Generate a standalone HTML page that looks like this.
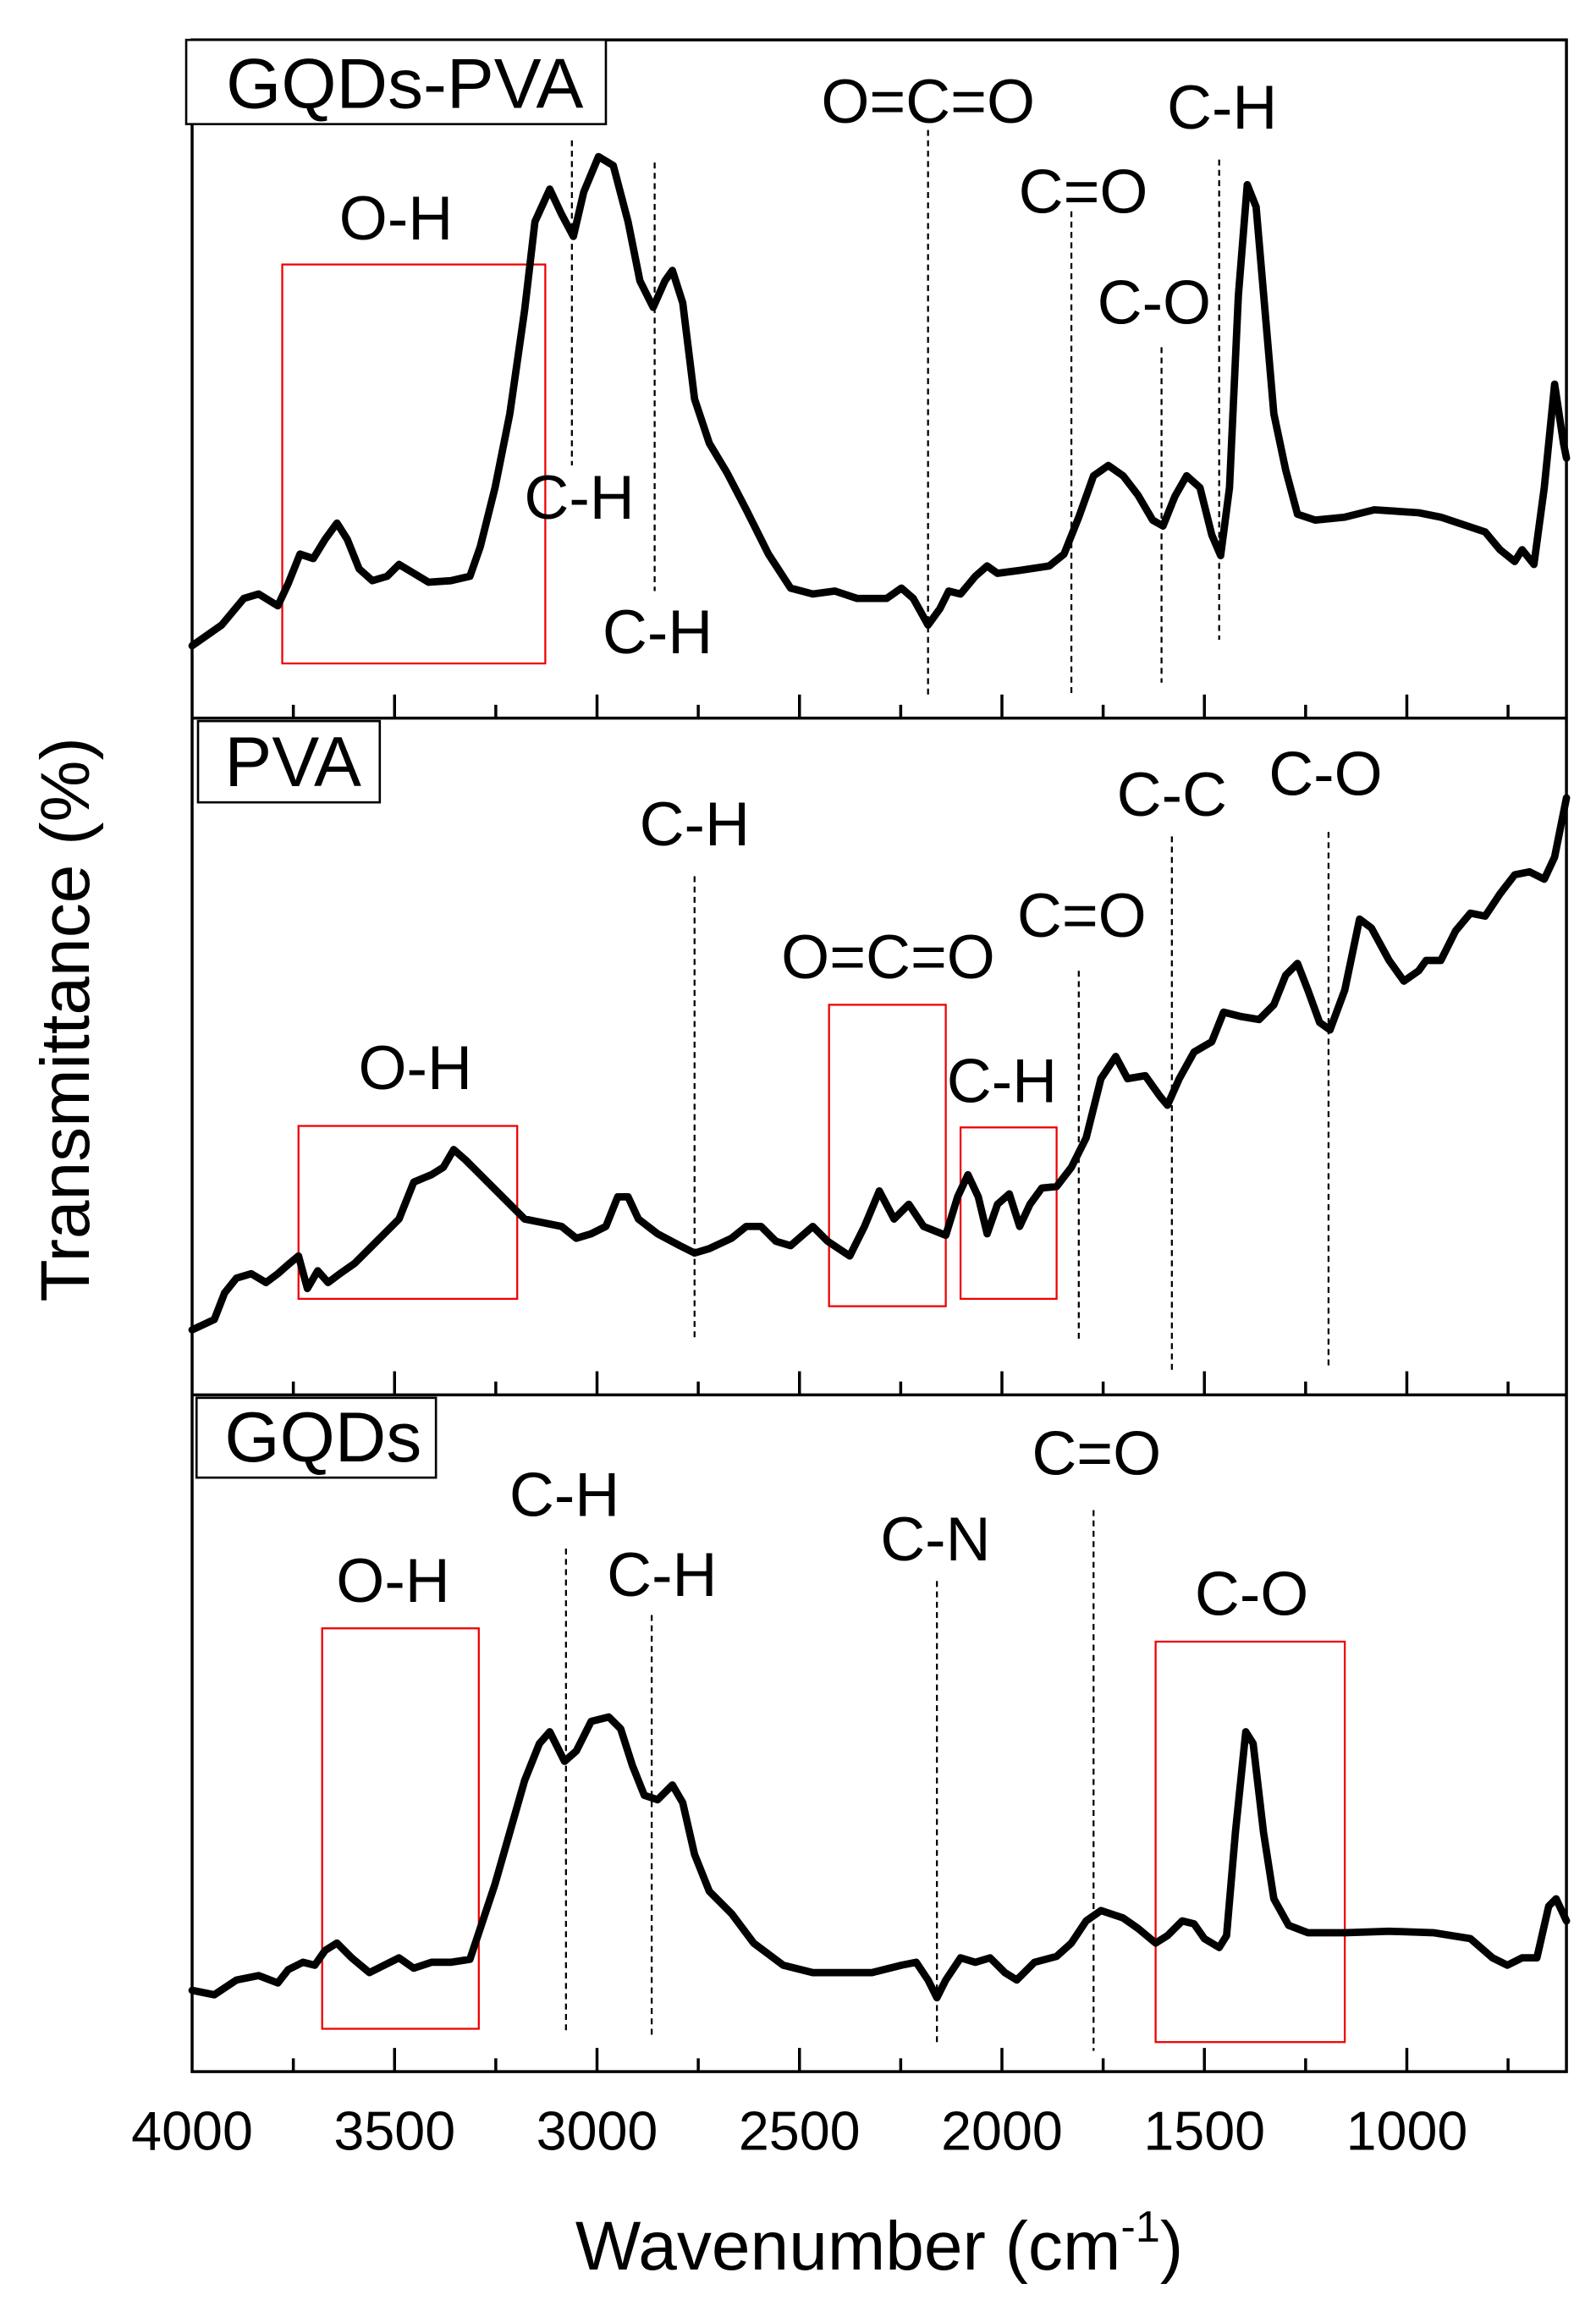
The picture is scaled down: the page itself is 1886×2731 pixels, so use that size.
<!DOCTYPE html>
<html><head><style>body{margin:0;background:#fff}svg{display:block}</style></head><body>
<svg width="1886" height="2731" viewBox="0 0 1080 1564" preserveAspectRatio="none" xmlns="http://www.w3.org/2000/svg" font-family="Liberation Sans, Arial, sans-serif">
<rect width="1080" height="1564" fill="#fff"/>
<g stroke="#000" stroke-width="1.3" stroke-dasharray="4,3">
<line x1="387" y1="95" x2="387" y2="315"/><line x1="443" y1="110" x2="443" y2="400"/><line x1="628" y1="88" x2="628" y2="470"/><line x1="725" y1="143" x2="725" y2="470"/><line x1="786" y1="235" x2="786" y2="462"/><line x1="825" y1="108" x2="825" y2="433"/>
<line x1="470" y1="593" x2="470" y2="905"/><line x1="730" y1="657" x2="730" y2="908"/><line x1="793" y1="566" x2="793" y2="928"/><line x1="899" y1="563" x2="899" y2="925"/>
<line x1="383" y1="1048" x2="383" y2="1375"/><line x1="441" y1="1093" x2="441" y2="1378"/><line x1="634" y1="1070" x2="634" y2="1385"/><line x1="740" y1="1022" x2="740" y2="1388"/>
</g>
<g fill="none" stroke="#e00" stroke-width="1.3">
<rect x="191" y="179" width="178" height="270"/>
<rect x="202" y="762" width="148" height="117"/><rect x="561" y="680" width="79" height="204"/><rect x="650" y="763" width="65" height="116"/>
<rect x="218" y="1102" width="106" height="271"/><rect x="782" y="1111" width="128" height="271"/>
</g>
<g fill="none" stroke="#000" stroke-width="5" stroke-linejoin="round" stroke-linecap="round">
<polyline points="130,437 150,423 165,405 175,402 188,410 195,395 203,375 212,378 220,365 228,354 235,365 243,385 252,393 262,390 270,382 280,388 290,394 305,393 318,390 325,370 335,330 345,280 355,210 362,150 372,128 380,145 388,160 395,130 405,106 415,112 425,150 433,190 442,208 450,190 455,183 462,205 470,270 480,300 492,320 505,345 520,375 535,398 550,402 565,400 580,405 600,405 610,398 618,405 628,423 636,412 642,400 650,402 660,390 668,383 675,388 690,386 710,383 720,375 730,350 740,322 750,315 760,322 770,335 780,352 787,356 795,336 803,322 812,330 820,362 826,376 832,330 838,200 844,125 850,140 856,210 862,280 870,318 878,348 890,352 910,350 930,345 960,347 975,350 990,355 1005,360 1015,372 1025,380 1030,372 1038,382 1045,330 1052,260 1058,300 1060,310"/>
<polyline points="130,900 145,893 152,875 160,865 170,862 180,868 188,862 196,855 202,850 208,872 215,860 222,868 230,862 240,855 250,845 260,835 270,825 280,800 292,795 300,790 307,778 315,785 325,795 340,810 355,825 370,828 380,830 390,838 400,835 410,830 418,810 425,810 432,825 445,835 460,843 470,848 480,845 495,838 505,830 515,830 525,840 535,843 550,830 560,840 575,850 585,830 595,806 605,825 615,815 625,830 640,836 648,810 655,795 662,810 668,835 675,815 683,808 690,830 697,815 705,804 715,803 725,790 735,770 745,730 755,715 763,730 775,728 785,742 790,748 798,730 808,712 820,705 828,685 840,688 852,690 862,680 870,660 878,652 885,670 893,692 900,697 910,670 920,622 928,628 940,650 950,664 960,657 965,650 975,650 985,630 995,618 1005,620 1015,605 1025,592 1035,590 1045,595 1052,580 1060,540"/>
<polyline points="130,1347 145,1350 160,1340 175,1337 188,1342 195,1333 205,1328 213,1330 220,1320 228,1315 238,1325 250,1335 260,1330 270,1325 280,1332 292,1328 305,1328 318,1326 325,1305 335,1275 345,1240 355,1205 365,1180 372,1172 382,1192 390,1185 400,1165 412,1162 420,1170 428,1195 436,1215 445,1218 455,1208 462,1220 470,1255 480,1280 495,1295 510,1315 530,1330 550,1335 570,1335 590,1335 610,1330 620,1328 628,1340 634,1352 640,1340 650,1325 660,1328 670,1325 680,1335 688,1340 700,1328 715,1324 725,1315 735,1300 745,1293 760,1298 770,1305 782,1315 790,1310 800,1300 808,1302 815,1312 825,1318 830,1310 836,1240 843,1172 848,1180 855,1240 862,1285 872,1303 885,1308 910,1308 940,1307 970,1308 995,1312 1010,1325 1020,1330 1030,1325 1040,1325 1048,1290 1053,1285 1060,1300"/>
</g>
<g stroke="#000" stroke-width="2" fill="none">
<rect x="130" y="27" width="930" height="1375"/>
<line x1="130" y1="486" x2="1060" y2="486"/><line x1="130" y1="944" x2="1060" y2="944"/>
</g>
<g stroke="#000" stroke-width="2">
<path d="M267,486v-16M404,486v-16M541,486v-16M678,486v-16M815,486v-16M952,486v-16M198.5,486v-9M335.5,486v-9M472.5,486v-9M609.5,486v-9M746.5,486v-9M883.5,486v-9M1020.5,486v-9"/>
<path d="M267,944v-16M404,944v-16M541,944v-16M678,944v-16M815,944v-16M952,944v-16M198.5,944v-9M335.5,944v-9M472.5,944v-9M609.5,944v-9M746.5,944v-9M883.5,944v-9M1020.5,944v-9"/>
<path d="M267,1402v-16M404,1402v-16M541,1402v-16M678,1402v-16M815,1402v-16M952,1402v-16M198.5,1402v-9M335.5,1402v-9M472.5,1402v-9M609.5,1402v-9M746.5,1402v-9M883.5,1402v-9M1020.5,1402v-9"/>
</g>
<g fill="#fff" stroke="#000" stroke-width="1.5">
<rect x="126" y="27" width="284" height="57"/><rect x="134" y="488" width="123" height="55"/><rect x="133" y="946" width="162" height="54"/>
</g>
<g font-size="48" fill="#000">
<text x="153" y="73">GQDs-PVA</text><text x="152" y="532">PVA</text><text x="152" y="989">GQDs</text>
</g>
<g font-size="42" fill="#000" text-anchor="middle">
<text x="268" y="162">O-H</text><text x="392" y="351">C-H</text><text x="445" y="442">C-H</text><text x="628" y="83">O=C=O</text><text x="733" y="144">C=O</text><text x="781" y="219">C-O</text><text x="827" y="87">C-H</text>
<text x="470" y="572">C-H</text><text x="281" y="737">O-H</text><text x="601" y="662">O=C=O</text><text x="732" y="634">C=O</text><text x="678" y="746">C-H</text><text x="793" y="552">C-C</text><text x="897" y="538">C-O</text>
<text x="382" y="1026">C-H</text><text x="448" y="1080">C-H</text><text x="266" y="1084">O-H</text><text x="633" y="1056">C-N</text><text x="742" y="998">C=O</text><text x="847" y="1093">C-O</text>
</g>
<g font-size="37" fill="#000" text-anchor="middle">
<text x="130" y="1455">4000</text><text x="267" y="1455">3500</text><text x="404" y="1455">3000</text><text x="541" y="1455">2500</text><text x="678" y="1455">2000</text><text x="815" y="1455">1500</text><text x="952" y="1455">1000</text>
</g>
<text x="595" y="1536" font-size="47" text-anchor="middle">Wavenumber (cm<tspan font-size="30" dy="-19">-1</tspan><tspan dy="19">)</tspan></text>
<text transform="translate(60,690) rotate(-90)" font-size="47" text-anchor="middle">Transmittance (%)</text>
</svg>
</body></html>
